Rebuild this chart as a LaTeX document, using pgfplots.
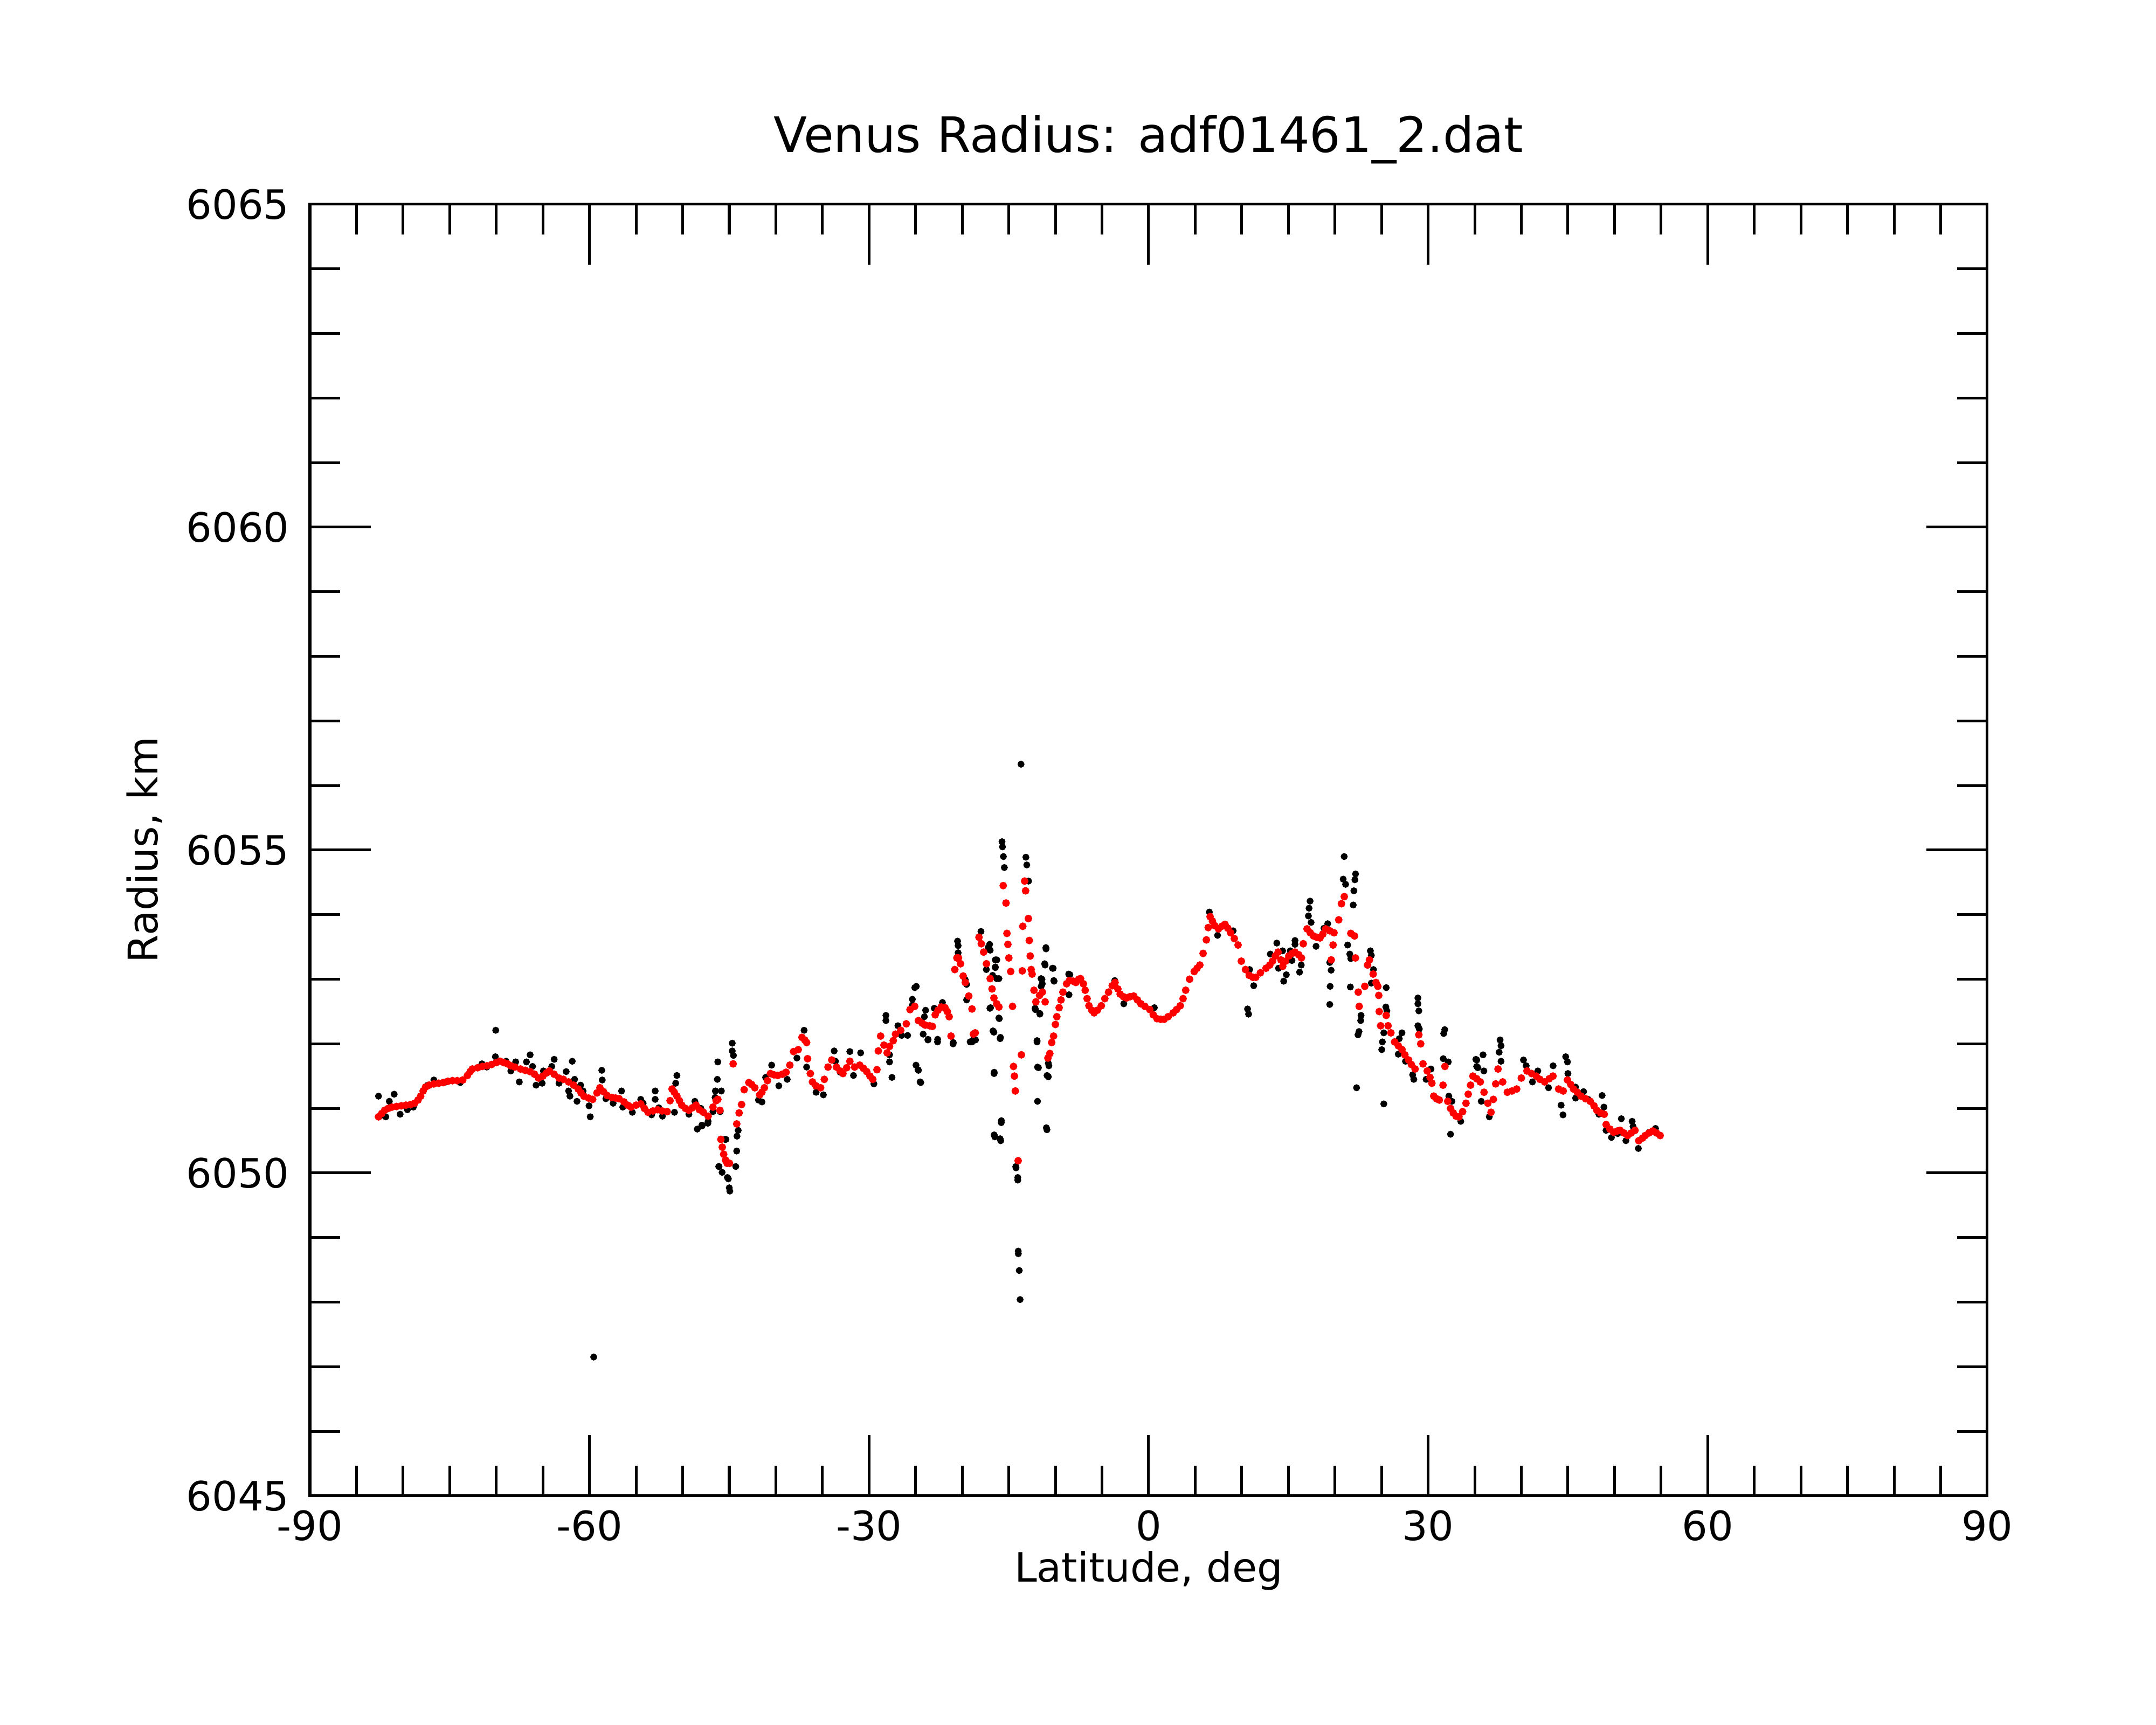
\documentclass[border=0pt]{standalone}
\usepackage{fontspec}
\setmainfont{DejaVu Sans}
\usepackage{pgfplots}
\pgfplotsset{compat=1.18}
\begin{document}
\begin{tikzpicture}
\path[use as bounding box] (-76.67pt,-56.67pt) rectangle (456.67pt,370pt);
\begin{axis}[
  scale only axis, width=414.93pt, height=319.47pt,
  xmin=-90, xmax=90, ymin=6045, ymax=6065,
  xtick={-90,-60,-30,0,30,60,90},
  xticklabels={-90,-60,-30,0,30,60,90},
  ytick={6045,6050,6055,6060,6065},
  yticklabels={6045,6050,6055,6060,6065},
  minor x tick num=5, minor y tick num=4,
  tick align=inside, tick pos=both,
  major tick length=15pt, minor tick length=7.5pt,
  every tick/.append style={black, line width=0.67pt},
  axis line style={line width=0.67pt},
  tick label style={font=\fontsize{10}{12}\selectfont},
  yticklabel style={xshift=-1.6pt},
  title={Venus Radius: adf01461\_2.dat},
  every axis title/.style={at={(axis description cs:0.5,1.0404)}, anchor=base, inner sep=0pt, font=\fontsize{12.1}{15}\selectfont},
  xlabel={Latitude, deg},
  xlabel style={at={(axis description cs:0.5,-0.06677)}, anchor=base, inner sep=0pt, font=\fontsize{10}{12}\selectfont},
  ylabel={Radius, km},
  ylabel style={at={(axis description cs:-0.09086,0.5)}, anchor=base, inner sep=0pt, font=\fontsize{10.1}{12}\selectfont},
]
% black: raw samples
\addplot[only marks, mark=*, mark size=0.65pt, black, mark options={draw=none, fill=black}] table {
x y
-82.64 6051.19
-82.5 6050.88
-81.86 6050.87
-81.48 6051.11
-80.96 6051.22
-80.32 6050.91
-79.54 6050.98
-78.9 6051.02
-77.35 6051.36
-76.7 6051.44
-75.41 6051.41
-73.86 6051.40
-71.54 6051.69
-71.02 6051.64
-70.06 6052.21
-70.1 6051.80
-68.95 6051.73
-68.44 6051.58
-67.92 6051.72
-67.53 6051.41
-66.76 6051.72
-66.37 6051.83
-66.11 6051.65
-65.73 6051.36
-65.08 6051.39
-64.95 6051.58
-64.05 6051.65
-63.79 6051.76
-63.27 6051.39
-62.5 6051.57
-62.24 6051.27
-62.1 6051.19
-61.85 6051.73
-61.6 6051.45
-61.34 6051.11
-60.95 6051.36
-60.69 6051.27
-60.05 6051.04
-59.92 6050.87
-59.55 6047.15
-58.68 6051.59
-58.63 6051.44
-58.24 6051.15
-57.46 6051.08
-56.56 6051.27
-56.43 6051.02
-55.4 6050.94
-54.5 6051.14
-54.24 6051.08
-53.33 6050.90
-52.95 6051.27
-52.95 6051.14
-52.56 6051.01
-52.17 6050.88
-50.62 6051.51
-50.75 6051.39
-50.88 6050.94
-49.33 6050.91
-48.69 6051.11
-48.56 6051.05
-48.04 6051.00
-48.43 6050.68
-47.92 6050.73
-47.94 6050.74
-47.3 6050.77
-47.27 6050.80
-46.75 6050.95
-46.23 6051.72
-46.28 6051.45
-46.49 6051.27
-45.85 6051.27
-46.52 6051.17
-45.97 6050.95
-45.46 6050.52
-45.36 6050.52
-46.1 6050.10
-46.13 6050.10
-45.77 6050.01
-45.2 6049.93
-45.1 6049.91
-45.0 6049.77
-44.94 6049.72
-44.68 6052.01
-44.68 6051.89
-44.55 6051.82
-44.3 6050.10
-44.2 6050.34
-44.17 6050.57
-44.04 6050.66
-41.87 6051.13
-41.49 6051.10
-41.1 6051.48
-40.45 6051.67
-39.68 6051.35
-38.78 6051.45
-37.74 6051.78
-36.97 6052.21
-36.7 6051.64
-35.68 6051.25
-34.9 6051.21
-33.74 6051.89
-33.6 6051.73
-33.1 6051.56
-32.06 6051.88
-31.67 6051.51
-30.9 6051.86
-29.48 6051.38
-28.19 6052.44
-28.19 6052.36
-27.8 6051.83
-27.8 6051.72
-27.54 6051.48
-26.9 6052.28
-26.5 6052.13
-25.86 6052.13
-25.09 6052.87
-25.35 6052.69
-25.35 6052.60
-24.96 6051.67
-24.7 6051.59
-24.52 6051.41
-24.93 6052.89
-24.74 6051.60
-24.45 6051.40
-23.93 6052.52
-24.06 6052.42
-24.19 6052.15
-23.67 6052.07
-23.68 6052.06
-23.0 6052.55
-22.64 6052.07
-22.65 6052.03
-22.12 6052.64
-20.98 6052.00
-20.96 6052.02
-20.5 6053.59
-20.44 6053.52
-20.44 6053.41
-19.67 6052.99
-19.53 6052.92
-19.53 6052.68
-19.15 6052.03
-19.0 6052.04
-18.95 6052.03
-18.76 6052.07
-18.57 6052.06
-17.99 6053.74
-17.41 6053.15
-17.22 6053.49
-17.06 6053.54
-17.0 6053.45
-17.03 6052.55
-16.96 6052.56
-16.74 6053.06
-16.7 6052.20
-16.6 6052.18
-16.58 6051.54
-16.57 6051.56
-16.57 6050.59
-16.5 6050.56
-16.45 6053.30
-16.45 6053.19
-16.45 6053.18
-16.3 6053.01
-16.29 6053.30
-16.07 6052.40
-16.06 6053.01
-16.02 6052.39
-15.93 6052.08
-15.93 6050.53
-15.9 6052.10
-15.87 6050.50
-15.81 6050.78
-15.8 6050.81
-15.73 6055.13
-15.68 6055.05
-15.58 6054.90
-15.48 6054.73
-14.25 6050.10
-14.23 6050.08
-14.04 6049.93
-14.04 6049.89
-13.99 6048.79
-13.98 6048.75
-13.88 6048.49
-13.79 6048.04
-13.69 6056.33
-13.17 6054.89
-13.07 6054.77
-12.88 6054.52
-12.18 6052.55
-12.15 6052.53
-11.97 6052.05
-11.97 6052.03
-11.92 6051.64
-11.92 6051.11
-11.82 6051.63
-11.67 6052.47
-11.67 6052.46
-11.54 6053.01
-11.53 6052.89
-11.44 6053.00
-11.41 6052.93
-11.15 6053.24
-11.11 6053.22
-11.02 6053.49
-11.01 6053.47
-10.97 6050.70
-10.91 6050.67
-10.9 6051.51
-10.76 6051.70
-10.76 6051.49
-10.7 6051.66
-10.32 6053.17
-10.24 6053.17
-10.17 6052.98
-10.14 6052.97
-8.57 6053.08
-8.45 6053.07
-8.54 6052.76
-3.63 6052.98
-2.66 6052.62
0.62 6052.56
6.52 6054.04
7.4 6053.68
9.07 6053.75
10.62 6052.54
10.73 6052.46
10.84 6053.15
11.28 6052.90
13.06 6053.39
13.76 6053.56
13.94 6053.17
14.38 6053.44
14.5 6052.97
14.78 6053.07
15.2 6053.44
15.38 6053.29
15.71 6053.60
15.71 6053.54
16.2 6053.11
16.38 6053.22
17.15 6053.98
17.22 6054.10
17.33 6054.21
17.44 6053.88
17.97 6053.51
18.82 6053.79
19.22 6053.86
19.44 6053.26
19.44 6052.61
19.48 6052.89
19.59 6053.14
20.88 6054.55
20.99 6054.90
21.14 6054.47
21.36 6053.53
21.59 6053.39
21.65 6052.88
21.7 6053.32
21.96 6054.15
22.03 6054.37
22.14 6054.54
22.21 6054.63
22.32 6051.32
22.47 6052.14
22.58 6052.19
22.76 6052.36
22.8 6052.44
23.8 6053.44
23.9 6053.37
23.9 6052.94
24.13 6053.15
25.02 6051.91
25.09 6052.03
25.24 6052.17
25.24 6051.07
25.46 6052.57
25.5 6052.87
25.57 6052.51
26.79 6051.84
26.9 6052.08
27.19 6052.17
27.57 6051.73
28.34 6051.52
28.46 6051.45
28.9 6052.71
28.9 6052.62
28.9 6052.28
29.0 6052.51
29.05 6052.23
29.78 6051.45
30.3 6051.61
31.62 6051.77
31.67 6052.16
31.78 6052.22
32.16 6051.72
32.22 6051.19
32.55 6051.11
32.4 6050.60
33.5 6050.80
35.12 6051.76
35.21 6051.65
35.22 6051.75
35.33 6051.63
35.7 6051.11
35.89 6051.83
35.98 6051.58
36.56 6050.87
37.62 6051.87
37.72 6052.06
37.82 6051.97
37.82 6051.73
40.23 6051.75
40.52 6051.66
41.19 6051.41
41.77 6051.58
42.92 6051.32
43.41 6051.66
44.27 6051.05
44.47 6050.90
44.76 6051.80
44.95 6051.72
45.0 6051.54
45.82 6051.33
45.82 6051.16
46.68 6051.26
47.17 6051.14
48.32 6050.91
48.67 6051.20
48.86 6051.02
49.09 6050.66
49.67 6050.55
50.35 6050.61
50.73 6050.84
51.22 6050.50
51.89 6050.80
51.99 6050.72
52.56 6050.38
53.72 6050.63
54.4 6050.69
};
% red: filtered samples
\addplot[only marks, mark=*, mark size=0.74pt, red, mark options={draw=none, fill=red}] table {
x y
-82.64 6050.87
-82.3 6050.92
-81.99 6050.97
-81.6 6051.00
-81.2 6051.02
-80.7 6051.03
-80.2 6051.04
-79.7 6051.05
-79.2 6051.06
-78.77 6051.08
-78.4 6051.13
-78.12 6051.19
-77.85 6051.27
-77.6 6051.33
-77.2 6051.36
-76.7 6051.38
-76.18 6051.39
-75.7 6051.40
-75.2 6051.42
-74.7 6051.43
-74.2 6051.43
-73.6 6051.44
-73.1 6051.51
-72.8 6051.57
-72.57 6051.61
-72.0 6051.63
-71.5 6051.65
-71.0 6051.66
-70.5 6051.68
-70.0 6051.71
-69.6 6051.73
-69.2 6051.71
-68.8 6051.69
-68.44 6051.66
-68.0 6051.64
-67.4 6051.61
-66.9 6051.59
-66.37 6051.57
-65.9 6051.53
-65.47 6051.47
-65.0 6051.50
-64.6 6051.55
-64.3 6051.58
-63.8 6051.53
-63.27 6051.47
-62.8 6051.45
-62.24 6051.41
-61.7 6051.36
-61.21 6051.30
-60.9 6051.24
-60.6 6051.19
-60.1 6051.16
-59.66 6051.14
-59.2 6051.24
-58.88 6051.32
-58.5 6051.26
-58.1 6051.20
-57.6 6051.17
-57.2 6051.16
-56.82 6051.15
-56.3 6051.10
-55.9 6051.05
-55.53 6051.02
-55.0 6051.05
-54.5 6051.07
-54.1 6051.00
-53.72 6050.94
-53.2 6050.96
-52.69 6050.98
-52.2 6050.96
-51.66 6050.95
-51.35 6051.12
-51.14 6051.30
-50.9 6051.25
-50.62 6051.19
-50.35 6051.12
-50.1 6051.05
-49.7 6051.00
-49.33 6050.97
-48.95 6051.01
-48.56 6051.05
-48.2 6050.98
-47.78 6050.94
-47.27 6050.88
-46.75 6051.02
-46.4 6051.12
-46.23 6051.14
-46.0 6050.97
-45.9 6050.52
-45.75 6050.40
-45.6 6050.29
-45.4 6050.20
-45.23 6050.15
-44.97 6050.15
-44.58 6051.69
-44.2 6050.76
-43.94 6050.93
-43.68 6051.06
-43.4 6051.29
-42.9 6051.40
-42.6 6051.37
-42.26 6051.32
-41.74 6051.21
-41.5 6051.25
-41.23 6051.32
-40.9 6051.43
-40.58 6051.54
-40.2 6051.52
-39.8 6051.51
-39.3 6051.53
-38.9 6051.56
-38.5 6051.67
-38.1 6051.88
-37.6 6051.91
-37.2 6052.10
-36.9 6052.06
-36.7 6052.02
-36.6 6051.77
-36.3 6051.54
-36.07 6051.41
-35.7 6051.35
-35.2 6051.32
-34.8 6051.45
-34.4 6051.64
-34.0 6051.75
-33.5 6051.64
-33.1 6051.58
-32.8 6051.54
-32.4 6051.63
-32.06 6051.73
-31.55 6051.64
-31.0 6051.67
-30.6 6051.62
-30.25 6051.57
-29.9 6051.50
-29.6 6051.45
-29.15 6051.60
-29.0 6051.89
-28.76 6052.12
-28.4 6051.98
-28.06 6051.86
-27.8 6051.96
-27.4 6052.05
-27.16 6052.15
-26.6 6052.21
-26.0 6052.31
-25.6 6052.53
-25.1 6052.58
-24.7 6052.36
-24.3 6052.32
-23.97 6052.29
-23.5 6052.28
-23.2 6052.27
-22.9 6052.45
-22.6 6052.52
-22.25 6052.57
-21.85 6052.56
-21.6 6052.50
-21.4 6052.42
-21.2 6052.12
-20.8 6053.15
-20.57 6053.33
-20.4 6053.33
-20.18 6053.24
-19.9 6053.05
-19.67 6052.95
-19.3 6052.74
-18.95 6052.54
-18.8 6052.15
-18.6 6052.17
-18.2 6053.65
-17.95 6053.55
-17.7 6053.42
-17.4 6053.24
-17.0 6053.01
-16.8 6052.85
-16.6 6052.71
-16.3 6052.62
-16.06 6052.57
-15.6 6054.45
-15.3 6054.18
-15.2 6053.71
-15.1 6053.54
-15.0 6053.33
-14.8 6053.12
-14.6 6052.58
-14.5 6051.65
-14.4 6051.50
-14.3 6051.27
-14.0 6050.19
-13.65 6051.83
-13.55 6053.13
-13.5 6053.82
-13.3 6054.52
-13.2 6054.37
-12.9 6053.94
-12.8 6053.60
-12.7 6053.36
-12.6 6053.15
-12.5 6053.08
-12.3 6052.83
-12.1 6052.65
-11.7 6052.75
-11.4 6052.80
-11.1 6052.65
-10.8 6051.78
-10.6 6051.85
-10.4 6052.02
-10.2 6052.12
-10.0 6052.30
-9.85 6052.42
-9.6 6052.56
-9.4 6052.68
-9.2 6052.80
-8.8 6052.93
-8.5 6052.98
-8.1 6052.97
-7.8 6052.95
-7.5 6053.00
-7.3 6053.01
-7.0 6052.93
-6.8 6052.83
-6.6 6052.70
-6.4 6052.59
-6.1 6052.52
-5.85 6052.48
-5.5 6052.52
-5.07 6052.59
-4.7 6052.70
-4.3 6052.80
-3.9 6052.90
-3.6 6052.95
-3.3 6052.85
-3.05 6052.77
-2.7 6052.73
-2.37 6052.71
-2.0 6052.73
-1.6 6052.74
-1.2 6052.68
-0.83 6052.62
-0.4 6052.58
0.13 6052.53
0.5 6052.45
0.9 6052.39
1.3 6052.38
1.67 6052.38
2.1 6052.42
2.64 6052.48
3.0 6052.53
3.4 6052.59
3.7 6052.70
3.98 6052.83
4.4 6053.00
4.9 6053.12
5.2 6053.17
5.5 6053.22
5.85 6053.40
6.2 6053.61
6.4 6053.80
6.6 6053.97
6.85 6053.90
7.1 6053.83
7.5 6053.78
7.85 6053.82
8.2 6053.85
8.5 6053.79
8.8 6053.72
9.2 6053.63
9.6 6053.53
9.95 6053.28
10.4 6053.15
10.8 6053.06
11.2 6053.03
11.5 6053.03
12.0 6053.10
12.6 6053.17
13.0 6053.22
13.3 6053.28
13.6 6053.36
13.9 6053.42
14.2 6053.30
14.4 6053.20
14.7 6053.28
15.05 6053.36
15.4 6053.40
15.7 6053.42
16.1 6053.38
16.4 6053.33
16.6 6053.55
17.0 6053.78
17.35 6053.72
17.7 6053.67
18.05 6053.65
18.4 6053.64
18.7 6053.70
19.0 6053.78
19.45 6053.75
19.6 6053.30
19.8 6053.53
19.9 6053.72
20.4 6053.92
20.7 6054.17
21.0 6054.28
21.7 6053.71
22.1 6053.67
22.2 6053.33
22.5 6052.80
22.6 6052.58
23.2 6052.89
23.5 6053.22
23.7 6053.30
24.1 6053.08
24.4 6052.95
24.6 6052.89
24.7 6052.75
24.75 6052.50
24.9 6052.28
25.5 6052.44
25.7 6052.28
26.0 6052.17
26.4 6052.03
26.8 6051.97
27.2 6051.91
27.5 6051.83
27.9 6051.75
28.2 6051.68
28.6 6051.61
29.0 6052.14
29.2 6052.00
29.45 6051.69
29.9 6051.58
30.2 6051.48
30.4 6051.39
30.6 6051.19
30.9 6051.15
31.2 6051.13
31.6 6051.36
31.8 6051.65
32.1 6051.11
32.4 6051.00
32.7 6050.93
33.0 6050.88
33.3 6050.87
33.7 6050.95
34.06 6051.08
34.3 6051.22
34.55 6051.36
34.8 6051.50
35.2 6051.46
35.6 6051.41
36.0 6051.25
36.4 6051.08
36.75 6050.94
37.0 6051.14
37.25 6051.38
37.5 6051.61
38.0 6051.41
38.5 6051.25
39.0 6051.27
39.5 6051.30
40.0 6051.47
40.6 6051.58
41.1 6051.54
41.6 6051.50
42.0 6051.45
42.5 6051.41
43.0 6051.46
43.4 6051.50
44.0 6051.30
44.5 6051.27
44.95 6051.44
45.3 6051.37
45.6 6051.30
46.0 6051.25
46.4 6051.19
46.9 6051.15
47.4 6051.11
47.8 6051.04
48.1 6050.97
48.5 6050.93
48.9 6050.91
49.1 6050.75
49.5 6050.68
49.9 6050.63
50.3 6050.65
50.6 6050.66
51.0 6050.62
51.4 6050.58
51.8 6050.62
52.2 6050.66
52.6 6050.50
53.0 6050.54
53.3 6050.58
53.7 6050.62
54.1 6050.65
54.5 6050.62
54.9 6050.58
};
\end{axis}
\end{tikzpicture}
\end{document}
